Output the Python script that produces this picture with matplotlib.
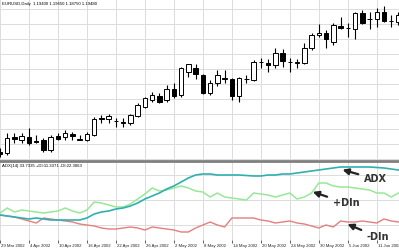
import matplotlib
matplotlib.use("Agg")
import matplotlib.pyplot as plt
from matplotlib.transforms import offset_copy
from matplotlib import font_manager
import numpy as np

# ---- data ----
opens = [0.8700, 0.8694, 0.8790, 0.8772, 0.8790, 0.8766, 0.8772, 0.8712, 0.8796, 0.8790,
         0.8808, 0.8778, 0.8772, 0.8802, 0.8904, 0.8898, 0.8886, 0.8880, 0.8874, 0.8916,
         0.8970, 0.9012, 0.9036, 0.9012, 0.9078, 0.9042, 0.9180, 0.9204, 0.9162, 0.9054,
         0.9114, 0.9147, 0.9138, 0.9036, 0.9138, 0.9132, 0.9240, 0.9234, 0.9222, 0.9294,
         0.9240, 0.9237, 0.9234, 0.9324, 0.9402, 0.9414, 0.9360, 0.9456, 0.9444, 0.9438,
         0.9534, 0.9498, 0.9498, 0.9540, 0.9486, 0.9480]
highs = [0.8724, 0.8814, 0.8814, 0.8814, 0.8844, 0.8802, 0.8784, 0.8802, 0.8814, 0.8832,
         0.8820, 0.8802, 0.8820, 0.8910, 0.8922, 0.8928, 0.8904, 0.8904, 0.8928, 0.8994,
         0.9030, 0.9060, 0.9054, 0.9102, 0.9114, 0.9210, 0.9222, 0.9228, 0.9168, 0.9132,
         0.9192, 0.9192, 0.9144, 0.9150, 0.9162, 0.9252, 0.9264, 0.9258, 0.9324, 0.9318,
         0.9264, 0.9258, 0.9354, 0.9414, 0.9468, 0.9432, 0.9474, 0.9510, 0.9474, 0.9540,
         0.9552, 0.9540, 0.9564, 0.9576, 0.9522, 0.9540]
lows = [0.8670, 0.8682, 0.8754, 0.8754, 0.8742, 0.8754, 0.8700, 0.8700, 0.8772, 0.8772,
        0.8772, 0.8772, 0.8766, 0.8796, 0.8874, 0.8874, 0.8850, 0.8850, 0.8862, 0.8910,
        0.8964, 0.9000, 0.8994, 0.9000, 0.9024, 0.9030, 0.9150, 0.9138, 0.9048, 0.9042,
        0.9096, 0.9114, 0.9012, 0.9000, 0.9114, 0.9126, 0.9204, 0.9180, 0.9204, 0.9210,
        0.9180, 0.9204, 0.9228, 0.9312, 0.9390, 0.9324, 0.9342, 0.9438, 0.9390, 0.9378,
        0.9468, 0.9438, 0.9450, 0.9480, 0.9450, 0.9462]
closes = [0.8688, 0.8784, 0.8778, 0.8796, 0.8754, 0.8760, 0.8712, 0.8790, 0.8778, 0.8814,
          0.8796, 0.8775, 0.8808, 0.8898, 0.8901, 0.8916, 0.8886, 0.8877, 0.8922, 0.8982,
          0.9024, 0.9042, 0.9000, 0.9078, 0.9036, 0.9204, 0.9228, 0.9168, 0.9054, 0.9114,
          0.9162, 0.9141, 0.9036, 0.9144, 0.9138, 0.9240, 0.9240, 0.9222, 0.9294, 0.9246,
          0.9240, 0.9237, 0.9324, 0.9402, 0.9414, 0.9378, 0.9462, 0.9444, 0.9444, 0.9534,
          0.9474, 0.9498, 0.9540, 0.9486, 0.9486, 0.9522]

adx = [14.0, 13.6, 13.2, 12.8, 12.4, 12.8, 12.4, 12.0, 12.0, 12.0,
       12.0, 12.0, 12.8, 14.4, 15.2, 15.6, 16.4, 16.8, 17.6, 18.8,
       20.4, 21.6, 22.8, 24.4, 25.6, 27.2, 28.8, 30.0, 30.4, 30.4,
       30.0, 30.0, 30.0, 30.0, 29.8, 29.6, 29.6, 30.0, 30.0, 30.4,
       30.4, 30.8, 31.2, 31.6, 32.0, 32.4, 32.8, 33.2, 33.2, 33.2,
       33.2, 33.2, 33.0, 32.8, 32.4, 32.0]
plus_di = [14.8, 16.8, 15.2, 16.0, 15.6, 15.2, 14.8, 15.2, 15.6, 16.8,
           15.6, 14.8, 16.0, 19.2, 18.8, 18.0, 17.2, 17.2, 18.4, 20.4,
           22.4, 24.8, 23.6, 24.0, 24.8, 25.6, 24.8, 23.6, 23.2, 21.2,
           22.8, 21.2, 20.8, 20.4, 20.0, 22.8, 22.4, 22.0, 21.2, 22.0,
           22.8, 20.4, 21.2, 22.8, 26.8, 26.8, 25.6, 25.2, 25.2, 24.8,
           24.4, 24.0, 22.8, 22.8, 21.2, 22.8]
minus_di = [14.0, 13.6, 13.2, 12.4, 11.6, 10.8, 12.8, 12.4, 12.0, 11.6,
            11.2, 10.4, 10.0, 9.6, 8.8, 8.4, 8.4, 8.8, 9.2, 8.8,
            8.0, 9.2, 8.8, 8.4, 8.0, 7.2, 7.2, 8.8, 10.0, 11.2,
            10.0, 9.2, 12.8, 12.8, 12.8, 12.8, 12.0, 11.6, 10.8, 11.2,
            11.6, 10.8, 10.4, 9.6, 8.8, 10.0, 9.2, 11.6, 11.2, 11.2,
            11.6, 11.2, 10.8, 12.4, 11.6, 11.2]

tick_labels = ['29 Mar 2002', '4 Apr 2002', '10 Apr 2002', '16 Apr 2002', '22 Apr 2002',
               '26 Apr 2002', '2 May 2002', '8 May 2002', '14 May 2002', '20 May 2002',
               '24 May 2002', '30 May 2002', '5 Jun 2002', '11 Jun 2002']
bars_per_tick = 4

title_text = 'EURUSD,Daily  1.19400 1.19650 1.18750 1.19480'
ind_text = 'ADX(14) 33.7335 +DI:11.3371 -DI:22.3063'

installed = {f.name for f in font_manager.fontManager.ttflist}
small_family = ['Liberation Sans Narrow'] if 'Liberation Sans Narrow' in installed else ['Liberation Sans']
small_size = 3.7 if small_family[0] == 'Liberation Sans Narrow' else 3.1

# ---- figure ----
W, H = 399, 250
fig = plt.figure(figsize=(W / 100, H / 100), dpi=100)
ax1 = fig.add_axes([0, 90 / H, 1, 160 / H])
ax2 = fig.add_axes([0, 10 / H, 1, 78 / H])

n = len(closes)
x = np.arange(n)
tick_pos = np.arange(0, n, bars_per_tick)[:len(tick_labels)]
xlim = (0.034, 55.07)
grid_col = '#dcdcdc'

for ax in (ax1, ax2):
    ax.set_xlim(*xlim)
    for s in ax.spines.values():
        s.set_visible(False)
    ax.set_xticks(tick_pos)
    ax.grid(True, color=grid_col, lw=0.7)
    ax.set_axisbelow(True)
    ax.tick_params(left=False, labelleft=False)

ax1.set_ylim(0.8652, 0.9612)
ax1.set_yticks(np.arange(0.8660, 0.9612, 0.0090))
ax1.tick_params(bottom=False, labelbottom=False)

bw = 0.62
for i in range(n):
    o, h, l, c = opens[i], highs[i], lows[i], closes[i]
    ax1.vlines(x[i], l, h, color='black', lw=0.8, zorder=2)
    lo, hi = min(o, c), max(o, c)
    hgt = max(hi - lo, 0.00008)
    face = 'white' if c >= o else 'black'
    ax1.add_patch(plt.Rectangle((x[i] - bw / 2, lo), bw, hgt, facecolor=face,
                                edgecolor='black', lw=0.7, zorder=3))

ax1.text(0.004, 0.985, title_text, transform=ax1.transAxes, fontsize=small_size,
         family=small_family, va='top', ha='left', color='black')

# indicator panel
ax2.set_ylim(4.0, 35.2)
ax2.set_yticks([10, 20, 30])
ax2.plot(x, minus_di, color='#e57e7e', lw=1.0)
ax2.plot(x, plus_di, color='#98e898', lw=1.1)
ax2.plot(x, adx, color='#2fb0b0', lw=1.2)
ax2.text(0.004, 0.98, ind_text, transform=ax2.transAxes, fontsize=small_size,
         family=small_family, va='top', ha='left', color='black')

ax2.tick_params(axis='x', length=2, width=0.6, color='#444444', pad=1.5)
ax2.set_xticklabels([])
lab_tr = offset_copy(ax2.get_xaxis_transform(), fig=fig, x=1, y=-2, units='dots')
for p, lab in zip(tick_pos, tick_labels):
    ax2.text(p, -0.02, lab, transform=lab_tr, fontsize=small_size, family=small_family,
             ha='left', va='top', color='#222222')
ax2.axhline(4.0, color='#888888', lw=0.6)

# divider between panels
fig.add_artist(plt.Line2D([0, 1], [89 / H, 89 / H], color='#7f7f7f', lw=2.0))

# annotations
arrow_kw = dict(arrowstyle='-|>,head_length=0.5,head_width=0.25', color='#222222', lw=1.6)
ax2.annotate('ADX', xy=(46.9, 32.4), xytext=(50.2, 28.4), fontsize=7, fontweight='bold',
             color='#333333', ha='left', va='center', arrowprops=arrow_kw)
ax2.annotate('+DIn', xy=(42.8, 23.6), xytext=(45.9, 18.8), fontsize=7, fontweight='bold',
             color='#333333', ha='left', va='center', arrowprops=arrow_kw)
ax2.annotate('-DIn', xy=(47.6, 10.8), xytext=(50.6, 5.2), fontsize=7, fontweight='bold',
             color='#333333', ha='left', va='center', arrowprops=arrow_kw)

fig.savefig('out.png', dpi=100)
